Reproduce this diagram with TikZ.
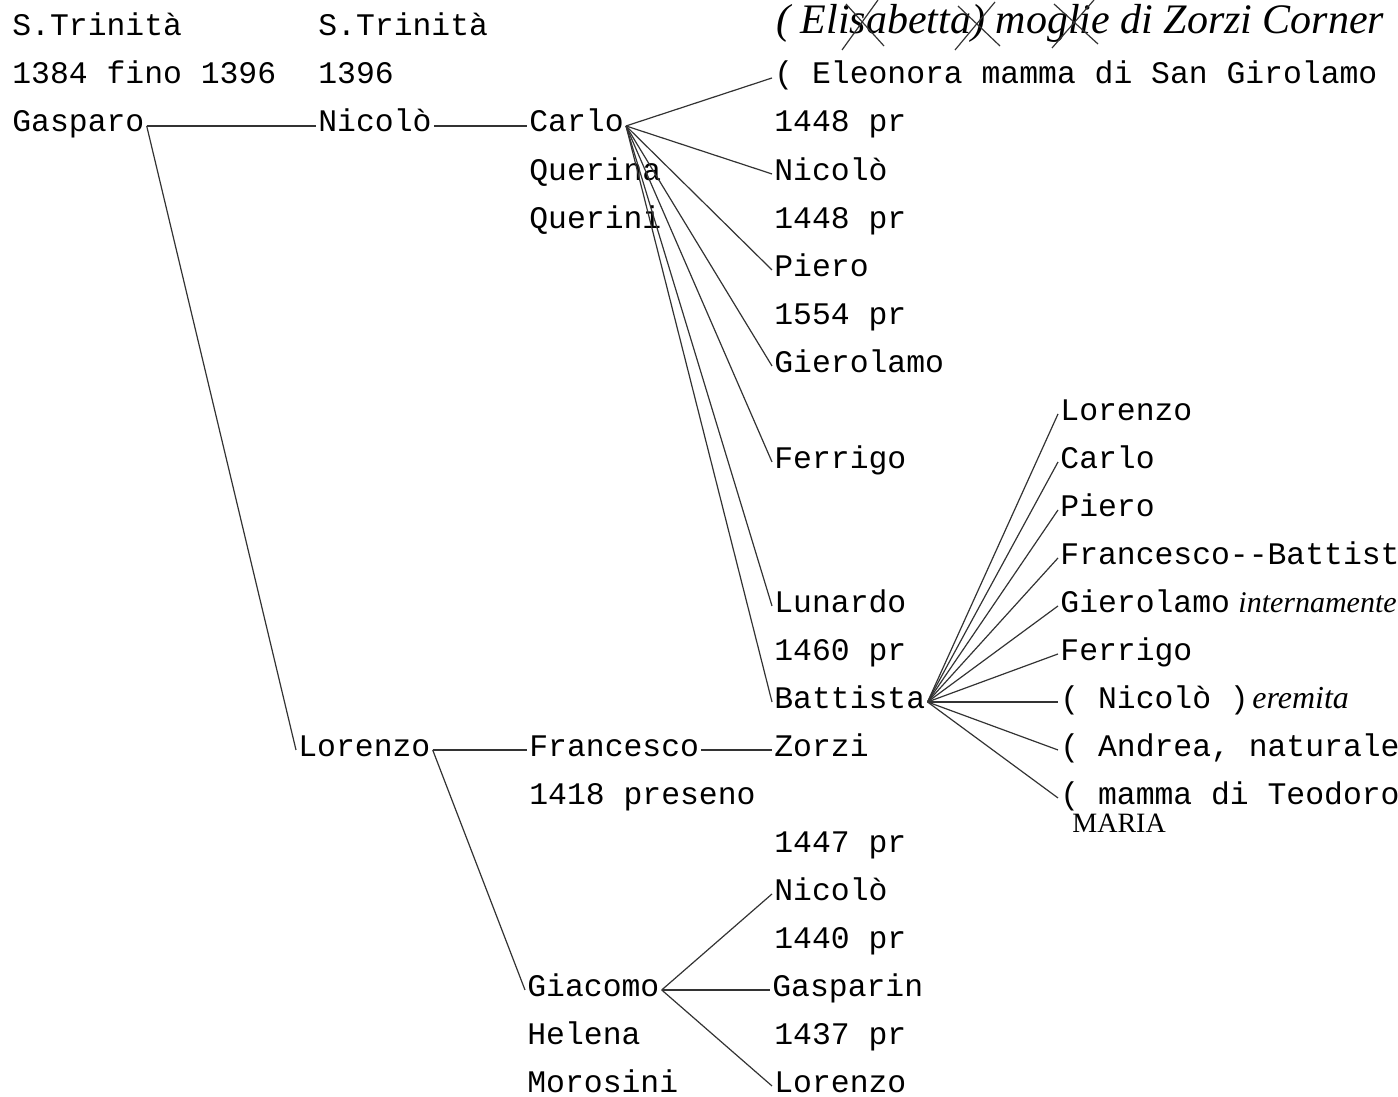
\documentclass[tikz,border=0pt]{standalone}
\usepackage{fontspec}
\setmonofont{Liberation Mono}
\newfontfamily\handfont{Liberation Serif}
\usetikzlibrary{calc}

\tikzset{
  nome/.style={anchor=base west, inner sep=1pt, text height=1.6ex, text depth=0.2ex,
    font=\ttfamily\fontsize{15.7}{19}\selectfont},
  mano/.style={anchor=base west, inner sep=1pt, font=\handfont\itshape\fontsize{21}{24}\selectfont},
  ramo/.style={line width=0.6pt, black!80},
}

\begin{document}
\begin{tikzpicture}[x=0.5pt, y=-0.5pt]
\useasboundingbox (0,0) rectangle (1398,1097);

% prima e seconda generazione
\node[nome] (trin) at (10,36) {S.Trinità};
\node[nome] (anni) at (10,84) {1384 fino 1396};
\node[nome] (gasparo) at (10,132) {Gasparo};
\node[nome] (trinB) at (316,36) {S.Trinità};
\node[nome] (anniB) at (316,84) {1396};
\node[nome] (nicolo) at (316,132) {Nicolò};
\node[nome] (lorenzo) at (296,756) {Lorenzo};

% Carlo e fratelli
\node[nome] (carlo) at (527,132) {Carlo};
\node[nome] (querina) at (527,180) {Querina};
\node[nome] (querini) at (527,228) {Querini};
\node[nome] (francesco) at (527,756) {Francesco};
\node[nome] (preseno) at (527,804) {1418 preseno};
\node[nome] (giacomo) at (525,996) {Giacomo};
\node[nome] (helena) at (525,1044) {Helena};
\node[nome] (morosini) at (525,1092) {Morosini};

% figli di Carlo
\node[nome] (eleonora) at (772,84) {( Eleonora mamma di San Girolamo};
\node[nome] (prA) at (772,132) {1448 pr};
\node[nome] (nicoloB) at (772,180) {Nicolò};
\node[nome] (prB) at (772,228) {1448 pr};
\node[nome] (pieroB) at (772,276) {Piero};
\node[nome] (prC) at (772,324) {1554 pr};
\node[nome] (gierolamoB) at (772,372) {Gierolamo};
\node[nome] (ferrigoB) at (772,468) {Ferrigo};
\node[nome] (lunardo) at (772,612) {Lunardo};
\node[nome] (prD) at (772,660) {1460 pr};
\node[nome] (battista) at (772,708) {Battista};
\node[nome] (zorzi) at (772,756) {Zorzi};
\node[nome] (prE) at (772,852) {1447 pr};
\node[nome] (nicoloC) at (772,900) {Nicolò};
\node[nome] (prF) at (772,948) {1440 pr};
\node[nome] (gasparin) at (770,996) {Gasparin};
\node[nome] (prG) at (772,1044) {1437 pr};
\node[nome] (lorenzoC) at (772,1092) {Lorenzo};

% figli di Battista
\node[nome] (lorenzoD) at (1058,420) {Lorenzo};
\node[nome] (carloD) at (1058,468) {Carlo};
\node[nome] (pieroD) at (1058,516) {Piero};
\node[nome] (francescoD) at (1058,564) {Francesco--Battist};
\node[nome] (gierolamoD) at (1058,612) {Gierolamo};
\node[nome] (ferrigoD) at (1058,660) {Ferrigo};
\node[nome] (nicoloD) at (1058,708) {( Nicolò )};
\node[nome] (andrea) at (1058,756) {( Andrea, naturale};
\node[nome] (mamma) at (1058,804) {( mamma di Teodoro};

% note a mano
\node[mano] (nota) at (774,34) {( Elisabetta) moglie di Zorzi Corner};
\node[mano, font=\handfont\itshape\fontsize{15}{18}\selectfont] (notaB) at (1236,612) {internamente};
\node[mano, font=\handfont\itshape\fontsize{16}{18}\selectfont] (notaC) at (1250,708) {eremita};
\node[mano, font=\handfont\fontsize{14}{16}\selectfont] (maria) at (1070,832) {MARIA};
\draw[ramo] (842,50) -- (878,0) (846,4) -- (884,46);
\draw[ramo] (955,50) -- (995,2) (958,6) -- (1000,46);
\draw[ramo] (1052,48) -- (1094,0) (1054,4) -- (1098,44);

% rami
\draw[ramo] (gasparo.east) -- (nicolo.west);
\draw[ramo] (gasparo.east) -- (lorenzo.west);
\draw[ramo] (nicolo.east) -- (carlo.west);
\foreach \f in {eleonora,nicoloB,pieroB,gierolamoB,ferrigoB,lunardo,battista}
  \draw[ramo] (carlo.east) -- (\f.west);
\draw[ramo] (lorenzo.east) -- (francesco.west);
\draw[ramo] (francesco.east) -- (zorzi.west);
\draw[ramo] (lorenzo.east) -- (giacomo.west);
\foreach \f in {nicoloC,gasparin,lorenzoC}
  \draw[ramo] (giacomo.east) -- (\f.west);
\foreach \f in {lorenzoD,carloD,pieroD,francescoD,gierolamoD,ferrigoD,nicoloD,andrea,mamma}
  \draw[ramo] (battista.east) -- (\f.west);
\end{tikzpicture}
\end{document}
